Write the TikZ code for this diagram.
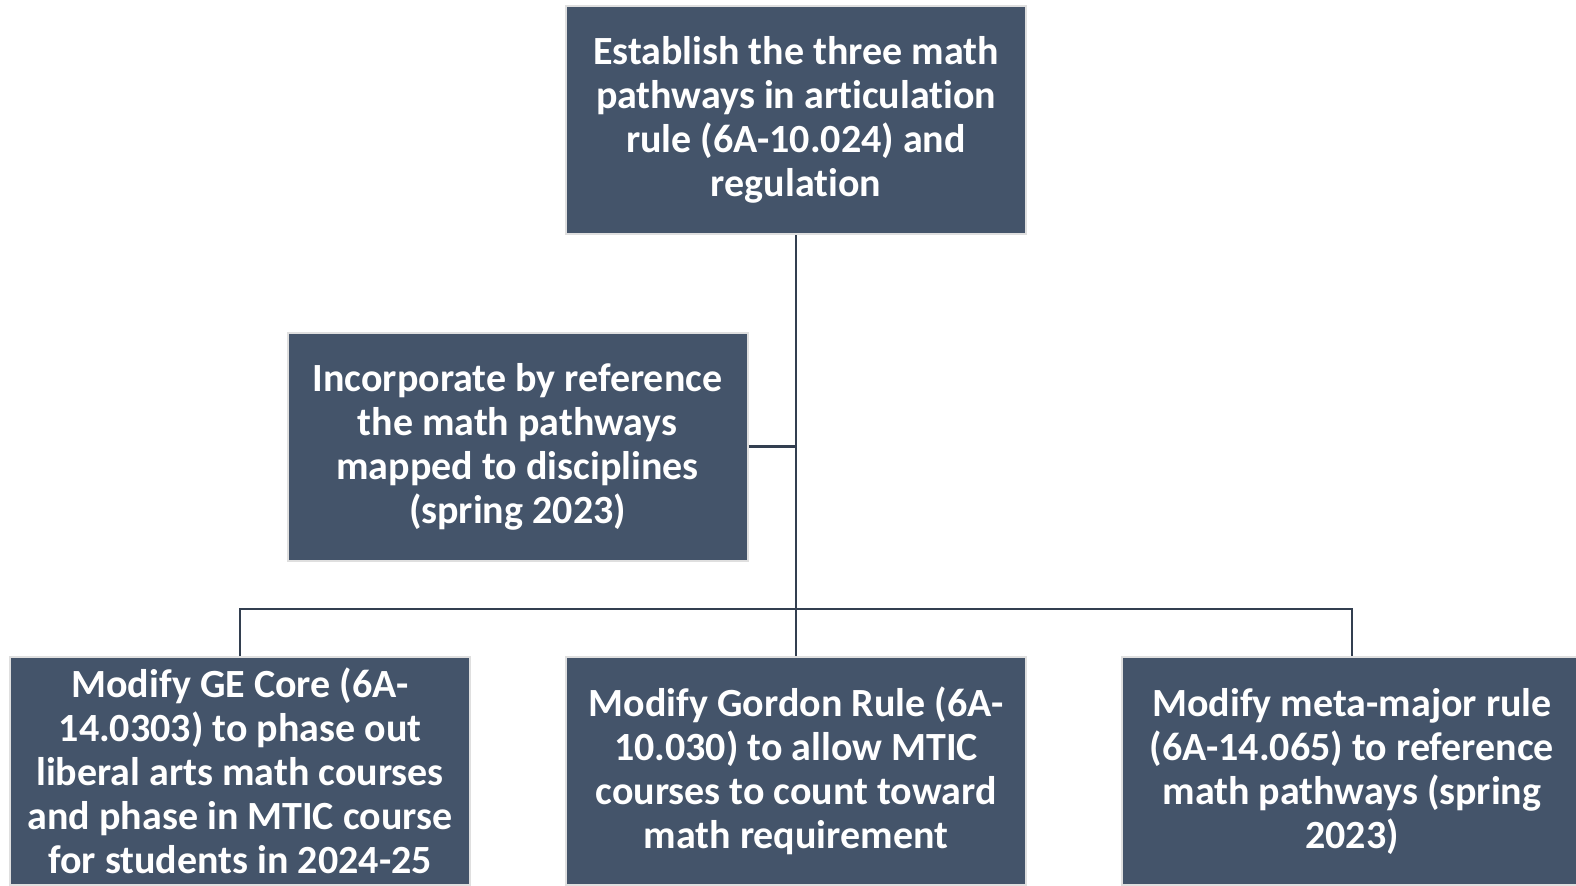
\documentclass[tikz,border=0pt]{standalone}
\usepackage{fontspec}
\setmainfont{Carlito}[RawFeature={-liga;-clig;-calt;-dlig}]
\usetikzlibrary{positioning}

\definecolor{slate}{HTML}{44546A}
\definecolor{wire}{HTML}{333F50}

\begin{document}
\begin{tikzpicture}[x=0.5pt,y=-0.5pt,
		taskbox/.style={draw=gray!25, line width=1pt, fill=slate, text=white, align=center,
			minimum width=230pt, minimum height=114pt, inner sep=2pt,
			font=\bfseries\fontsize{20}{22}\selectfont},
		link/.style={draw=wire, line width=1.25pt}]
					\useasboundingbox (0,0) rectangle (1576,885);

					\node [taskbox] (goal) at (796,120) {Establish the three math\\pathways in articulation\\rule (6A-10.024) and\\regulation};
					\node [taskbox] (incorp) at (517.5,446.5) {Incorporate by reference\\the math pathways\\mapped to disciplines\\(spring 2023)};

					\node [taskbox] (gecore) at (240,771) {Modify GE Core (6A-\\14.0303) to phase out\\liberal arts math courses\\and phase in MTIC course\\for students in 2024-25};
					\node [taskbox] (gordon) at (796,771) {Modify Gordon Rule (6A-\\10.030) to allow MTIC\\courses to count toward\\math requirement};
					\node [taskbox] (metamajor) at (1352,771) {Modify meta-major rule\\(6A-14.065) to reference\\math pathways (spring\\2023)};

					\coordinate (bus) at (796,609);

					\draw [link] (goal.south) -- (gordon.north);
					\draw [link] (incorp.east) -- (goal.south |- incorp.east);
					\draw [link] (gecore.north) |- (bus) -| (metamajor.north);

				\end{tikzpicture}
\end{document}
